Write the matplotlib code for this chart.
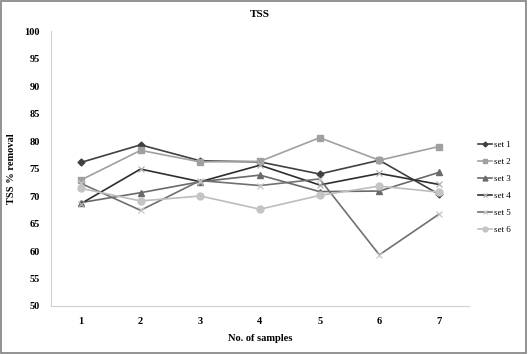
import numpy as np
import matplotlib.pyplot as plt
from matplotlib.patches import Rectangle

plt.rcParams['font.family'] = ['Liberation Serif', 'DejaVu Serif']

samples = [1, 2, 3, 4, 5, 6, 7]
set1 = [76.1, 79.3, 76.4, 76.2, 74.0, 76.5, 70.3]
set2 = [72.9, 78.3, 76.2, 76.3, 80.6, 76.5, 79.0]
set3 = [68.8, 70.6, 72.6, 73.8, 70.8, 70.9, 74.3]
set4 = [68.6, 74.9, 72.6, 75.6, 72.0, 74.1, 72.1]
set5 = [72.3, 67.4, 72.8, 71.9, 73.1, 59.3, 66.7]
set6 = [71.4, 69.1, 70.0, 67.6, 70.1, 71.8, 70.7]
labels = ['set 1', 'set 2', 'set 3', 'set 4', 'set 5', 'set 6']

fig = plt.figure(figsize=(5.28, 3.54), dpi=100)
ax = fig.add_axes([0.0966, 0.1356, 0.7914, 0.7768])

styles = [
    dict(color='#404040', marker='D', ms=3.5, mfc='#404040', mec='#404040'),
    dict(color='#a0a0a0', marker='s', ms=5, mfc='#a0a0a0', mec='#a0a0a0'),
    dict(color='#6a6a6a', marker='^', ms=5, mfc='#6a6a6a', mec='#6a6a6a'),
    dict(color='#2e2e2e', marker='x', ms=5, mec='#b0b0b0', mew=0.9),
    dict(color='#707070', marker='x', ms=5, mec='#c8c8c8', mew=0.9),
    dict(color='#bdbdbd', marker='o', ms=5, mfc='#c4c4c4', mec='#c4c4c4'),
]
for data, lab, st in zip([set1, set2, set3, set4, set5, set6], labels, styles):
    ax.plot(samples, data, lw=1.2, label=lab, **st)

ax.set_xlim(0.5, 7.5)
ax.set_ylim(50, 100)
ax.set_yticks(np.arange(50, 101, 5))
ax.set_xticks(samples)
for s in ['top', 'right']:
    ax.spines[s].set_visible(False)
for s in ['left', 'bottom']:
    ax.spines[s].set_color('#d0d0d0')
ax.tick_params(length=0, labelsize=7.5, pad=8)
for t in ax.get_xticklabels() + ax.get_yticklabels():
    t.set_fontweight('bold')

ax.set_title('TSS', fontsize=8, fontweight='bold', pad=10)
ax.set_xlabel('No. of samples', fontsize=7.5, fontweight='bold', labelpad=6)
ax.set_ylabel('TSS % removal', fontsize=7.5, fontweight='bold', labelpad=6)

leg = fig.legend(loc='upper left', bbox_to_anchor=(0.905, 0.602), frameon=False,
                 fontsize=6.5, handlelength=1.6, handletextpad=0.2, labelspacing=0.95,
                 markerscale=0.7, borderaxespad=0, borderpad=0)

fig.patches.append(Rectangle((0.002, 0.003), 0.995, 0.993, transform=fig.transFigure,
                             fill=False, ec='#808080', lw=1.2))

fig.savefig('out.png', dpi=100)
